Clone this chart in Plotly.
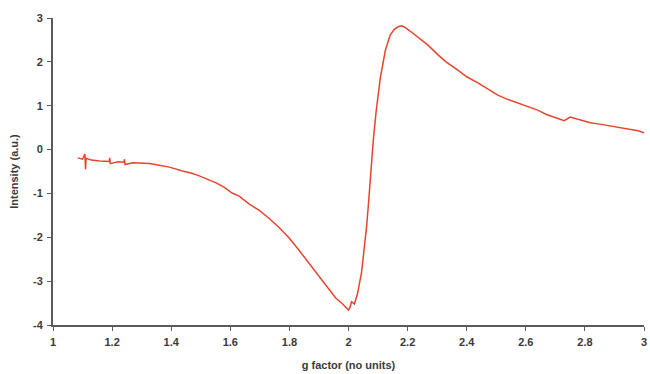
import plotly.graph_objects as go

g_factor = [1.084, 1.100, 1.108, 1.110, 1.112, 1.130, 1.158, 1.190, 1.192, 1.194, 1.220,
            1.240, 1.242, 1.244, 1.270, 1.300, 1.327, 1.360, 1.394, 1.438, 1.470, 1.495,
            1.525, 1.552, 1.580, 1.606, 1.630, 1.663, 1.697, 1.730, 1.764, 1.800, 1.832,
            1.865, 1.899, 1.930, 1.956, 1.980, 1.995, 2.000, 2.005, 2.010, 2.020, 2.030,
            2.044, 2.053, 2.061, 2.068, 2.074, 2.084, 2.094, 2.108, 2.125, 2.141, 2.155,
            2.168, 2.180, 2.190, 2.205, 2.226, 2.250, 2.269, 2.303, 2.330, 2.370, 2.400,
            2.438, 2.470, 2.505, 2.540, 2.572, 2.605, 2.640, 2.670, 2.707, 2.730, 2.750,
            2.780, 2.818, 2.850, 2.886, 2.920, 2.953, 2.980, 3.000]
intensity = [-0.19, -0.22, -0.10, -0.45, -0.20, -0.24, -0.26, -0.27, -0.19, -0.32, -0.28,
             -0.29, -0.22, -0.34, -0.30, -0.31, -0.32, -0.36, -0.40, -0.49, -0.54, -0.60,
             -0.68, -0.76, -0.86, -0.99, -1.06, -1.24, -1.38, -1.56, -1.77, -2.02, -2.29,
             -2.58, -2.90, -3.15, -3.38, -3.52, -3.62, -3.66, -3.60, -3.47, -3.52, -3.30,
             -2.81, -2.30, -1.77, -1.20, -0.62, 0.22, 0.90, 1.65, 2.27, 2.61, 2.74,
             2.80, 2.82, 2.79, 2.72, 2.61, 2.49, 2.38, 2.16, 2.00, 1.81, 1.66,
             1.52, 1.38, 1.24, 1.14, 1.06, 0.98, 0.90, 0.80, 0.72, 0.66, 0.74,
             0.68, 0.61, 0.58, 0.54, 0.51, 0.47, 0.43, 0.38]

x_ticks = [1, 1.2, 1.4, 1.6, 1.8, 2, 2.2, 2.4, 2.6, 2.8, 3]
y_ticks = [-4, -3, -2, -1, 0, 1, 2, 3]

fig = go.Figure()
fig.add_trace(go.Scatter(
    x=g_factor, y=intensity, mode="lines",
    line=dict(color="#e5452d", width=1.5),
    showlegend=False,
))

axis_font = dict(family="Liberation Sans, Arial, sans-serif", size=11, color="#3a3a3a")
fig.update_layout(
    width=650, height=374,
    margin=dict(l=53, r=3, t=18, b=49),
    paper_bgcolor="white", plot_bgcolor="white",
    font=axis_font,
    xaxis=dict(
        range=[1, 3], tickvals=x_ticks, ticktext=[f"<b>{v:g}</b>" for v in x_ticks],
        showgrid=False, zeroline=False, ticklabeloverflow="allow",
        showline=True, linecolor="#5a5a5a", linewidth=2,
        ticks="outside", ticklen=4, tickcolor="#5a5a5a", tickwidth=1,
        ticklabelstandoff=2,
        title=dict(text="<b>g factor (no units)</b>", standoff=14,
                   font=dict(size=11, color="#3a3a3a")),
    ),
    yaxis=dict(
        range=[-4, 3], tickvals=y_ticks, ticktext=[f"<b>{v}</b>" for v in y_ticks],
        showgrid=False, zeroline=False,
        showline=True, linecolor="#5a5a5a", linewidth=2,
        ticks="outside", ticklen=4, tickcolor="#5a5a5a", tickwidth=1,
        ticklabelstandoff=2,
        title=dict(text="<b>Intensity (a.u.)</b>", standoff=12,
                   font=dict(size=11, color="#3a3a3a")),
    ),
)

fig.write_html("out.html")
